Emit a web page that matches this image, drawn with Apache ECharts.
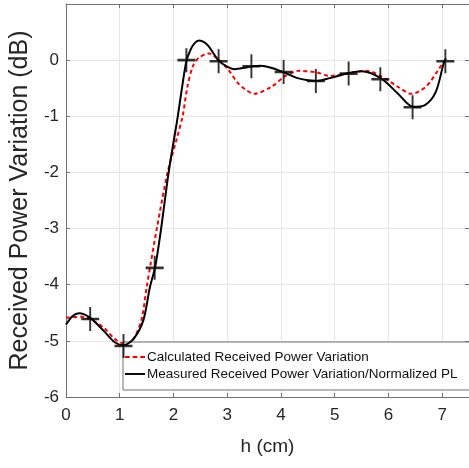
<!DOCTYPE html>
<html>
<head>
<meta charset="utf-8">
<script src="https://cdn.jsdelivr.net/npm/echarts@6/dist/echarts.min.js"></script>
<style>
  html, body { margin: 0; padding: 0; background: #fff; }
  #chart { width: 469px; height: 468px; }
</style>
</head>
<body>
<div id="chart"></div>
<script>
// calculated (red dashed) curve
const calcX = [0, 0.3, 0.54, 0.72, 0.9, 1.11, 1.26, 1.41, 1.5, 1.58, 1.69, 1.89, 2.06, 2.17, 2.26, 2.36, 2.47, 2.66, 2.84, 3.02, 3.2, 3.35, 3.5, 3.83, 4.07, 4.34, 4.67, 4.91, 5.21, 5.45, 5.6, 5.87, 6.17, 6.43, 6.7, 6.91, 7.03]
const calcY = [-4.59, -4.57, -4.66, -4.78, -4.96, -5.06, -4.96, -4.6, -4.05, -3.6, -3.0, -2.0, -1.4, -1.0, -0.47, -0.11, 0.04, 0.12, 0.01, -0.17, -0.41, -0.53, -0.6, -0.47, -0.29, -0.19, -0.22, -0.28, -0.24, -0.2, -0.19, -0.29, -0.47, -0.6, -0.47, -0.2, -0.02]

// measured (black) curve
const measX = [0, 0.12, 0.24, 0.45, 0.72, 0.9, 1.07, 1.26, 1.44, 1.56, 1.66, 1.77, 1.91, 2.08, 2.17, 2.24, 2.31, 2.39, 2.48, 2.57, 2.66, 2.84, 2.99, 3.14, 3.35, 3.47, 3.62, 3.83, 4.06, 4.31, 4.67, 4.91, 5.27, 5.5, 5.87, 6.17, 6.46, 6.68, 6.88, 7.03, 7.07]
const measY = [-4.71, -4.56, -4.51, -4.59, -4.84, -5.02, -5.08, -4.96, -4.63, -4.05, -3.68, -3.0, -2.0, -1.0, -0.42, -0.02, 0.17, 0.3, 0.35, 0.32, 0.24, -0.01, -0.11, -0.16, -0.13, -0.11, -0.1, -0.14, -0.22, -0.32, -0.37, -0.32, -0.23, -0.2, -0.33, -0.59, -0.83, -0.8, -0.57, -0.05, 0.03]

// measured points (+ markers)
const markX = [0.45, 1.07, 1.65, 2.24, 2.84, 3.45, 4.05, 4.65, 5.26, 5.85, 6.45, 7.06]
const markY = [-4.61, -5.09, -3.70, 0, -0.02, -0.11, -0.21, -0.37, -0.24, -0.34, -0.84, -0.02]

const seriesNames = ['Calculated Received Power Variation', 'Measured Received Power Variation/Normalized PL']

const zip = (xs, ys) => xs.map((x, i) => [x, ys[i]])

const font = "'Liberation Sans', Arial, sans-serif"
const axisColor = '#707070'
const gridColor = '#e6e6e6'
const textColor = '#262626'

const chart = echarts.init(document.getElementById('chart'))

let option = {
  backgroundColor: '#fff',
  animation: false,
  grid: {
    left: 53,
    top: 4,
    width: 418,
    height: 393
  },
  legend: {
    data: [
      { name: seriesNames[0], icon: 'path://M0,0h5v2h-5z M8,0h5v2h-5z M16,0h5v2h-5z', itemStyle: { color: '#ff0000' } },
      { name: seriesNames[1], icon: 'path://M0,0h21v2h-21z', itemStyle: { color: '#000' } }
    ],
    orient: 'vertical',
    left: 123,
    top: 342,
    padding: [8, 40, 9, 2],
    itemGap: 3,
    itemWidth: 20,
    itemHeight: 2,
    backgroundColor: '#fff',
    borderColor: axisColor,
    borderWidth: 1,
    textStyle: {
      fontFamily: font,
      fontSize: 13.5,
      color: '#111',
      padding: [0, 0, 0, -3]
    }
  },
  xAxis: [{
    type: 'value',
    min: 0,
    max: 7.5,
    interval: 1,
    name: 'h (cm)',
    nameLocation: 'middle',
    nameGap: 40,
    nameTextStyle: { fontFamily: font, fontSize: 19, color: textColor },
    axisLine: { show: true, onZero: false, lineStyle: { color: axisColor } },
    axisTick: { inside: true, length: 4, lineStyle: { color: axisColor } },
    axisLabel: { fontFamily: font, fontSize: 17, color: textColor, margin: 10, showMaxLabel: false },
    splitLine: { lineStyle: { color: gridColor } }
  }, {
    type: 'value',
    position: 'top',
    min: 0,
    max: 7.5,
    interval: 1,
    axisLine: { show: true, onZero: false, lineStyle: { color: axisColor } },
    axisTick: { inside: true, length: 4, lineStyle: { color: axisColor } },
    axisLabel: { show: false },
    splitLine: { show: false }
  }],
  yAxis: [{
    type: 'value',
    min: -6,
    max: 1,
    interval: 1,
    name: 'Received Power Variation (dB)',
    nameLocation: 'middle',
    nameGap: 16,
    nameTextStyle: { fontFamily: font, fontSize: 25, color: textColor },
    axisLine: { show: true, onZero: false, lineStyle: { color: axisColor } },
    axisTick: { inside: true, length: 4, lineStyle: { color: axisColor } },
    axisLabel: {
      fontFamily: font,
      fontSize: 17,
      color: textColor,
      margin: 7,
      formatter: v => (v === 1 ? '' : String(v))
    },
    splitLine: { lineStyle: { color: gridColor } }
  }, {
    type: 'value',
    position: 'right',
    min: -6,
    max: 1,
    interval: 1,
    axisLine: { show: true, onZero: false, lineStyle: { color: axisColor } },
    axisTick: { inside: true, length: 4, lineStyle: { color: axisColor } },
    axisLabel: { show: false },
    splitLine: { show: false }
  }],
  series: [
    {
      name: seriesNames[0],
      type: 'line',
      data: zip(calcX, calcY),
      smooth: 0.3,
      showSymbol: false,
      symbol: 'none',
      z: 3,
      lineStyle: { color: '#ff0000', width: 2, type: [4, 3] },
      itemStyle: { color: '#ff0000' }
    },
    {
      name: seriesNames[1],
      type: 'line',
      data: zip(measX, measY),
      smooth: 0.3,
      showSymbol: false,
      symbol: 'none',
      z: 4,
      lineStyle: { color: '#000', width: 2 },
      itemStyle: { color: '#000' }
    },
    {
      name: 'markers',
      type: 'scatter',
      data: zip(markX, markY),
      symbol: 'path://M10,0L10,20M0,10L20,10',
      symbolSize: [18, 24],
      z: 5,
      itemStyle: { color: 'transparent', borderColor: '#000', borderWidth: 2.2 }
    }
  ]
}
chart.setOption(option)
</script>
</body>
</html>
